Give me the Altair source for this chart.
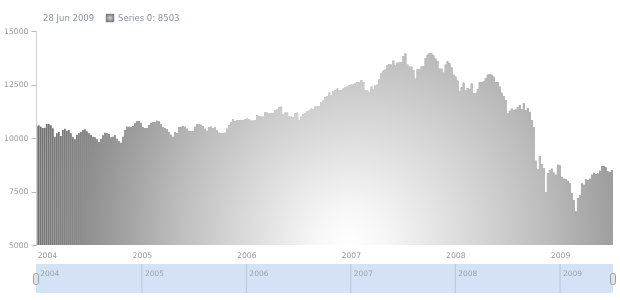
import altair as alt
import pandas as pd

# ---------------- data ----------------
first_week = "2003-12-28"
series_name = "Series 0"
values = [
    10561, 10593, 10530, 10467, 10480, 10654, 10654, 10593, 10450, 10062,
    10218, 10280, 10093, 10374, 10436, 10343, 10374, 10218, 10031, 9938,
    10156, 10218, 10280, 10374, 10405, 10312, 10218, 10156, 10062, 10031,
    9938, 9813, 9969, 10124, 10249, 10218, 10187, 10031, 10062, 10124,
    9969, 9844, 9782, 10062, 10374, 10530, 10530, 10500, 10561, 10687,
    10780, 10780,
    10716, 10499, 10470, 10470, 10592, 10716, 10748, 10748, 10810, 10779,
    10650, 10499, 10470, 10405, 10280, 10156, 10062, 10280, 10218, 10499,
    10530, 10561, 10530, 10436, 10343, 10312, 10312, 10530, 10650, 10650,
    10623, 10561, 10436, 10343, 10499, 10530, 10470, 10499, 10374, 10249,
    10218, 10218, 10249, 10436, 10592, 10748, 10873, 10779, 10841, 10841,
    10841, 10841, 10872, 10903, 10872, 10810, 10810, 10841, 11059, 11028,
    10996, 10996, 11215, 11183, 11152, 11152, 11152, 11308, 11339, 11432,
    11463, 11121, 11183, 11183, 10996, 10996, 10965, 11152, 11183, 10841,
    10996, 11121, 11152, 11246, 11277, 11370, 11339, 11463, 11495, 11495,
    11682, 11744, 11900, 11963, 12118, 11994, 12181, 12243, 12305, 12212,
    12243, 12305, 12368, 12398, 12461, 12492, 12492, 12555, 12617, 12617,
    12710, 12617, 12243, 12212, 12150, 12398, 12275, 12461, 12492, 12740,
    13022, 13146, 13209, 13396, 13458, 13427, 13614, 13396, 13520, 13520,
    13552, 13832, 13957, 13427, 13333, 13333, 13178, 12771, 13209, 13209,
    13333, 13365, 13738, 13894, 13957, 13957, 13863, 13707, 13583, 13240,
    13240, 13053, 13427, 13583, 13490, 13303, 12958, 12865, 12678, 12181,
    12368, 12584, 12243, 12337, 12275, 12555, 12088, 12088, 12275, 12617,
    12617, 12648, 12804, 12958, 12991, 12958, 12865, 12617, 12617, 12398,
    12118, 11963, 11776, 11152, 11277, 11370, 11308, 11339, 11435, 11529,
    11339, 11622, 11308, 11402, 11215, 10841, 10499, 8940,
    8536, 9159, 8785, 8598, 7477, 8350, 8505, 8566, 8379, 8285,
    8753, 8723, 8164, 8098, 8070, 8004, 7883, 7416, 7103, 6575,
    7196, 7322, 7883, 7818, 8070, 8037, 8098, 8285, 8379, 8318,
    8350, 8472, 8692, 8692, 8630, 8444, 8411, 8503,
]
y_ticks = [5000, 7500, 10000, 12500, 15000]
years = ["2004", "2005", "2006", "2007", "2008", "2009"]

# ---------------- tables ----------------
dates = pd.date_range(first_week, periods=len(values), freq="7D")
df = pd.DataFrame({"date": dates, "end": dates + pd.Timedelta(hours=140), "value": values})
dom_start = dates[0]
dom_end = dates[-1] + pd.Timedelta(days=7)
dom_df = pd.DataFrame({"s": [dom_start], "e": [dom_end]})
year_df = pd.DataFrame({"d": pd.to_datetime([f"{y}-01-01" for y in years]), "label": years})
line_df = year_df.iloc[1:]
handle_df = pd.DataFrame({"d": [dom_start, dom_end]})
head_df = pd.DataFrame({
    "when": [dates[-1].strftime("%d %b %Y")],
    "what": [f"{series_name}: {values[-1]}"],
})

FONT = "DejaVu Sans"
xscale = alt.Scale(domain=[alt.DateTime(year=2003, month=12, date=28),
                           alt.DateTime(year=2009, month=7, date=5)])
xaxis = alt.Axis(title=None, format="%Y", tickCount={"interval": "year", "step": 1},
                 domain=False, ticks=False, grid=False, labelPadding=6,
                 labelColor="#9a9a9a", labelFontSize=7.7, labelFont=FONT,
                 labelFlush=5, labelOverlap=False, zindex=1)


def X(field):
    return alt.X(f"{field}:T", scale=xscale, axis=xaxis)


bars = alt.Chart(df).mark_bar(color="#6a6a6a").encode(
    x=X("date"),
    x2="end:T",
    y=alt.Y("value:Q",
            scale=alt.Scale(domain=[5000, 15000], nice=False, zero=False),
            axis=alt.Axis(title=None, values=y_ticks, format="d", grid=False,
                          domainColor="#d0d0d0", tickColor="#b8b8b8", tickSize=5,
                          labelColor="#9a9a9a", labelFontSize=7.7, labelFont=FONT,
                          labelPadding=3, zindex=1)),
    y2=alt.datum(5000),
)

# global light falloff over the bars (focal point low in the middle)
glow = {
    "gradient": "radial",
    "x1": 0.54, "y1": 0.80, "r1": 0,
    "x2": 0.585, "y2": 0.767, "r2": 0.62,
    "stops": [
        {"offset": 0.0, "color": "#ffffff"},
        {"offset": 0.1, "color": "#f6f6f6"},
        {"offset": 0.22, "color": "#e6e6e6"},
        {"offset": 0.38, "color": "#d0d0d0"},
        {"offset": 0.52, "color": "#bcbcbc"},
        {"offset": 0.66, "color": "#a4a4a4"},
        {"offset": 0.8, "color": "#8e8e8e"},
        {"offset": 0.9, "color": "#7a7a7a"},
        {"offset": 1.0, "color": "#6a6a6a"},
    ],
}
overlay = alt.Chart(dom_df).mark_rect(fill=glow, blend="lighten").encode(
    x=X("s"), x2="e:T", y=alt.value(-200), y2=alt.value(281)
)

head_date = alt.Chart(head_df).mark_text(
    align="left", baseline="middle", font=FONT, fontSize=8.5, color="#8a949e"
).encode(text="when:N", x=alt.value(7), y=alt.value(-13))

icon_fill = {
    "gradient": "radial", "x1": 0.5, "y1": 0.5, "r1": 0, "x2": 0.5, "y2": 0.5, "r2": 0.6,
    "stops": [{"offset": 0, "color": "#d8d8d8"}, {"offset": 1, "color": "#6a6a6a"}],
}
head_icon = alt.Chart(head_df).mark_square(
    size=60, fill=icon_fill, stroke="#777777", strokeWidth=0.6, opacity=1
).encode(x=alt.value(74), y=alt.value(-13))

head_value = alt.Chart(head_df).mark_text(
    align="left", baseline="middle", font=FONT, fontSize=8.5, color="#8a949e"
).encode(text="what:N", x=alt.value(82), y=alt.value(-13))

nav_band = alt.Chart(dom_df).mark_rect(color="#d3e3f5").encode(
    x=X("s"), x2="e:T", y=alt.value(233), y2=alt.value(262)
)
nav_lines = alt.Chart(line_df).mark_rule(color="#b7c7da", strokeWidth=1).encode(
    x=X("d"), y=alt.value(233), y2=alt.value(262)
)
nav_labels = alt.Chart(year_df).mark_text(
    align="left", baseline="top", dx=3, font=FONT, fontSize=7.5, color="#98a2ad"
).encode(x=X("d"), y=alt.value(239), text="label:N")
handles = alt.Chart(handle_df).mark_tick(
    orient="vertical", thickness=5, size=11, cornerRadius=2,
    color="#e2e2e2", stroke="#8c8c8c", strokeWidth=0.8, opacity=1
).encode(x=X("d"), y=alt.value(248))

chart = alt.layer(
    bars, overlay, head_date, head_icon, head_value,
    nav_band, nav_lines, nav_labels, handles
).properties(
    width=577, height=214,
    autosize=alt.AutoSizeParams(type="none"),
    padding={"left": 36, "top": 31, "right": 7, "bottom": 55},
    background="white",
).configure_view(stroke=None)

chart.save("out.html", embed_options={"renderer": "svg", "actions": False})
